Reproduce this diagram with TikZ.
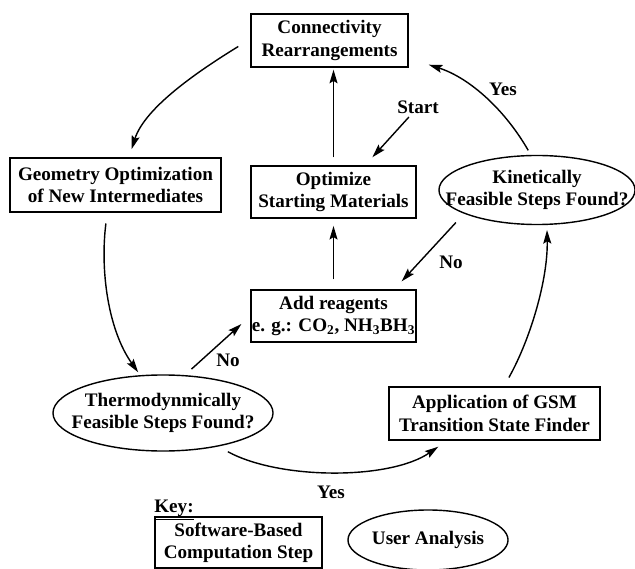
\documentclass[tikz,border=0pt]{standalone}
\usepackage{fontspec}
\setmainfont{Liberation Serif}
\usetikzlibrary{arrows.meta, positioning, shapes.geometric}
\tikzset{
	compbox/.style={rectangle, draw=black, line width=1pt, align=center, inner sep=0pt, font=\bfseries\fontsize{13.6}{15.9}\selectfont},
	decision/.style={ellipse, draw=black, line width=1pt, align=center, inner xsep=-0.6cm, inner ysep=0pt, font=\bfseries\fontsize{13.6}{15.9}\selectfont},
	tag/.style={inner sep=0pt, font=\bfseries\fontsize{13.6}{15.9}\selectfont},
	arrow/.style={-{Stealth[length=3.4mm, width=2mm, inset=0.6mm]}, line width=1pt},
}

\begin{document}
\begin{tikzpicture}[x=0.025cm, y=0.025cm]
		\useasboundingbox (0,0) rectangle (635,-569);
		\node[compbox, minimum width=3.925cm, minimum height=1.325cm] (conn) at (329.5,-40.5) {Connectivity\\Rearrangements};
		\node[compbox, minimum width=5.275cm, minimum height=1.35cm] (geo) at (115.5,-185) {Geometry Optimization\\of New Intermediates};
		\node[compbox, minimum width=4.125cm, minimum height=1.3cm] (opt) at (333.5,-192) {Optimize\\Starting Materials};
		\node[decision, minimum width=4.9cm, minimum height=1.725cm] (kin) at (537,-190) {Kinetically\\Feasible Steps Found?};
		\node[compbox, minimum width=4.125cm, minimum height=1.3cm] (add) at (333.5,-316) {Add reagents\\e. g.: CO\textsubscript{2}, NH\textsubscript{3}BH\textsubscript{3}};
		\node[decision, minimum width=5.5cm, minimum height=1.9cm] (thermo) at (163,-413) {Thermodynmically\\Feasible Steps Found?};
		\node[compbox, minimum width=5.275cm, minimum height=1.325cm] (gsm) at (494.5,-413.5) {Application of GSM\\Transition State Finder};
		\node[tag] (start) at (418,-107) {Start};
		\node[tag] (yeskin) at (503,-89) {Yes};
		\node[tag] (nokin) at (451,-262) {No};
		\node[tag] (nothermo) at (228,-360) {No};
		\node[tag] (yesthermo) at (331,-492) {Yes};
		\node[tag] (key) at (174,-510) {\underline{Key:}};
		\node[compbox, minimum width=4.175cm, minimum height=1.275cm] (keybox) at (238.5,-542.5) {Software-Based\\Computation Step};
		\node[decision, minimum width=4.0cm, minimum height=1.5cm] (user) at (428,-540) {User Analysis};
		\draw[arrow] ([xshift=-0.3cm,yshift=-0.15cm]conn.west) .. controls (200,-70) and (145,-107) .. ([xshift=0.4cm,yshift=0.2cm]geo.north);
		\draw[arrow] ([xshift=-0.24cm,yshift=-0.27cm]geo.south) .. controls (100,-270) and (108,-330) .. ([xshift=-0.62cm,yshift=0.05cm]thermo.north);
		\draw[arrow, shorten <=0.22cm, shorten >=0.3cm] (thermo.60) -- (add.west);
		\draw[arrow, shorten <=0.3cm, shorten >=0.27cm] (kin.198) -- ([xshift=-0.56cm]add.north east);
		\draw[arrow, shorten <=0.25cm, shorten >=0.18cm] (add.north) -- (opt.south);
		\draw[arrow, shorten <=0.2cm, shorten >=0.05cm] (opt.north) -- (opt.north |- conn.south);
		\draw[arrow, shorten <=0.34cm, shorten >=0.27cm] (start.center) -- ([xshift=0.79cm]opt.north);
		\draw[arrow, shorten <=0.13cm] (kin.100) .. controls (505,-110) and (470,-78) .. ([xshift=0.5cm,yshift=0.075cm]conn.south east);
		\draw[arrow] ([xshift=0.36cm,yshift=0.22cm]gsm.north) .. controls (530,-340) and (548,-280) .. ([xshift=0.25cm,yshift=-0.12cm]kin.south);
		\draw[arrow] ([xshift=1.62cm]thermo.south) .. controls (280,-480) and (390,-480) .. ([xshift=1.25cm,yshift=-0.15cm]gsm.south west);
	\end{tikzpicture}
\end{document}
